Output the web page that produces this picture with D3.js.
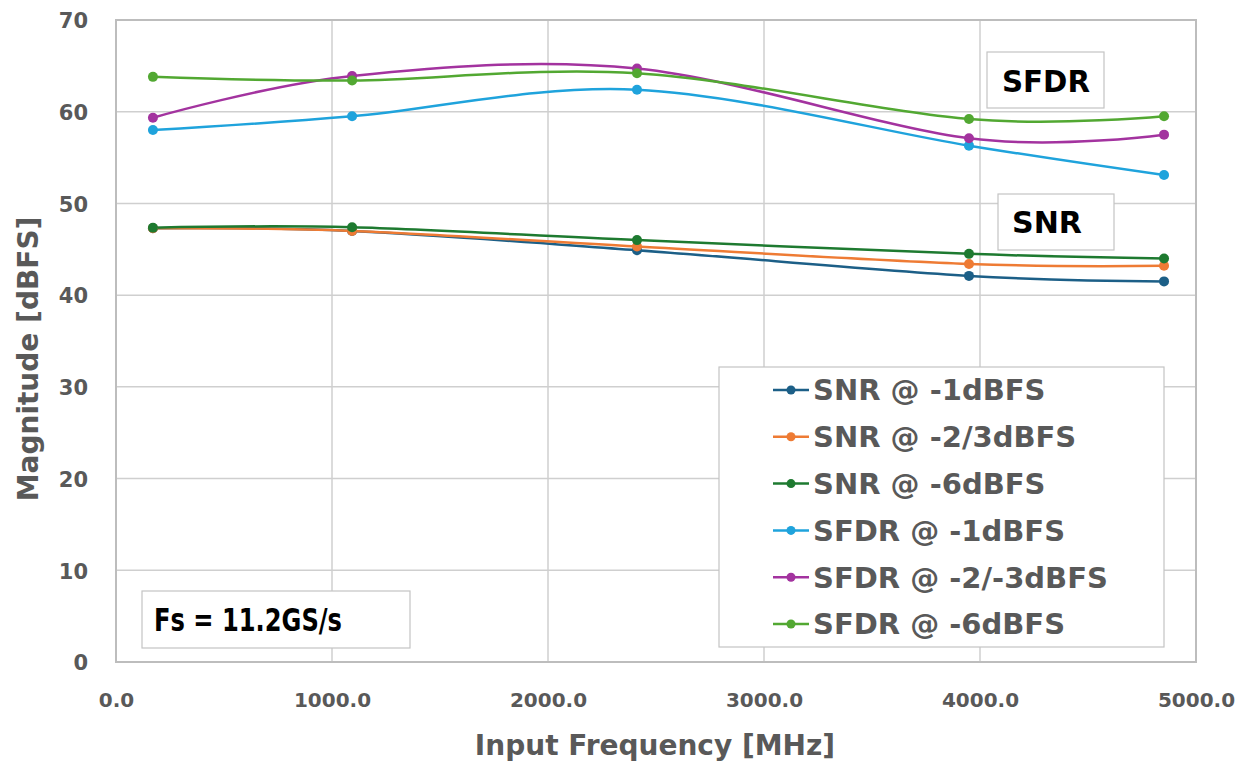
<!DOCTYPE html>
<html>
<head>
<meta charset="utf-8">
<script src="https://cdn.jsdelivr.net/npm/d3@7"></script>
<style>
  body { margin: 0; background: #fff; }
  svg text { font-family: "DejaVu Sans", sans-serif; font-weight: 700; }
</style>
</head>
<body>
<div class="svg-container"></div>
<script>
// data
var freqs = [171, 1093, 2412, 3949, 4852];
var seriesNames = ["SNR @ -1dBFS", "SNR @ -2/3dBFS", "SNR @ -6dBFS",
                   "SFDR @ -1dBFS", "SFDR @ -2/-3dBFS", "SFDR @ -6dBFS"];
var snr1 = [47.3, 47.0, 44.9, 42.1, 41.5];
var snr23 = [47.3, 47.0, 45.3, 43.4, 43.2];
var snr6 = [47.35, 47.4, 46.0, 44.5, 44.0];
var sfdr1 = [58.0, 59.5, 62.4, 56.3, 53.1];
var sfdr23 = [59.35, 63.9, 64.7, 57.1, 57.5];
var sfdr6 = [63.8, 63.4, 64.2, 59.2, 59.5];
var colors = ["#1c5f87", "#ee7b34", "#1e7a30", "#1fa3dc", "#a3339f", "#52a832"];
var xTicks = [0, 1000, 2000, 3000, 4000, 5000];
var yTicks = [0, 10, 20, 30, 40, 50, 60, 70];

var allSeries = [snr1, snr23, snr6, sfdr1, sfdr23, sfdr6];

var width = 1257, height = 762;
var plotLeft = 116, plotRight = 1196, plotTop = 20, plotBottom = 662;

var svg = d3.select(".svg-container").append("svg")
  .attr("width", width)
  .attr("height", height);

var x = d3.scaleLinear().domain([0, 5000]).range([plotLeft, plotRight]);
var y = d3.scaleLinear().domain([0, 70]).range([plotBottom, plotTop]);

// grid
svg.append("g")
  .selectAll("line")
  .data(xTicks)
  .join("line")
  .attr("x1", d => x(d)).attr("x2", d => x(d))
  .attr("y1", plotTop).attr("y2", plotBottom)
  .attr("stroke", "#cfcfcf").attr("stroke-width", 1.5);

svg.append("g")
  .selectAll("line")
  .data(yTicks)
  .join("line")
  .attr("x1", plotLeft).attr("x2", plotRight)
  .attr("y1", d => y(d)).attr("y2", d => y(d))
  .attr("stroke", "#cfcfcf").attr("stroke-width", 1.5);

// plot border
svg.append("rect")
  .attr("x", plotLeft).attr("y", plotTop)
  .attr("width", plotRight - plotLeft).attr("height", plotBottom - plotTop)
  .attr("fill", "none")
  .attr("stroke", "#bdbdbd").attr("stroke-width", 2);

// axes (labels only)
var xAxis = svg.append("g")
  .attr("transform", "translate(0," + (plotBottom + 45) + ")")
  .call(d3.axisBottom(x).tickValues(xTicks).tickFormat(d3.format(".1f")).tickSize(0));
xAxis.select(".domain").remove();
xAxis.selectAll("text")
  .attr("fill", "#595959")
  .style("font-size", "20px")
  .attr("y", 0)
  .attr("dy", 0);

var yAxis = svg.append("g")
  .attr("transform", "translate(" + (plotLeft - 28) + ",0)")
  .call(d3.axisLeft(y).tickValues(yTicks).tickSize(0));
yAxis.select(".domain").remove();
yAxis.selectAll("text")
  .attr("fill", "#595959")
  .style("font-size", "21px")
  .attr("x", 0)
  .attr("dy", "0.37em");

// axis titles
svg.append("text")
  .attr("x", 655).attr("y", 755)
  .attr("text-anchor", "middle")
  .attr("fill", "#595959")
  .style("font-size", "28px")
  .text("Input Frequency [MHz]");

svg.append("text")
  .attr("transform", "translate(38,359) rotate(-90)")
  .attr("text-anchor", "middle")
  .attr("fill", "#595959")
  .style("font-size", "28px")
  .text("Magnitude [dBFS]");

// lines
var line = d3.line()
  .x((d, i) => x(freqs[i]))
  .y(d => y(d))
  .curve(d3.curveCardinal.tension(0));

allSeries.forEach(function(vals, k) {
  svg.append("path")
    .datum(vals)
    .attr("d", line)
    .attr("fill", "none")
    .attr("stroke", colors[k])
    .attr("stroke-width", 2.5);
});
allSeries.forEach(function(vals, k) {
  svg.append("g")
    .selectAll("circle")
    .data(vals)
    .join("circle")
    .attr("cx", (d, i) => x(freqs[i]))
    .attr("cy", d => y(d))
    .attr("r", 5)
    .attr("fill", colors[k]);
});

// annotation boxes
function labelBox(bx, by, bw, bh, txt, tx, ty, size, tl) {
  svg.append("rect")
    .attr("x", bx).attr("y", by).attr("width", bw).attr("height", bh)
    .attr("fill", "#fff").attr("stroke", "#c4c4c4").attr("stroke-width", 1.2);
  svg.append("text")
    .attr("x", tx).attr("y", ty)
    .attr("fill", "#000")
    .style("font-size", size + "px")
    .attr("textLength", tl).attr("lengthAdjust", "spacingAndGlyphs")
    .text(txt);
}
labelBox(987, 52, 117, 56, "SFDR", 1002, 92, 31, 88);
labelBox(998, 194, 116, 56, "SNR", 1012, 233, 31, 70);
labelBox(142, 591, 268, 57, "Fs = 11.2GS/s", 154, 631, 32, 188);

// legend
var legend = svg.append("g");
legend.append("rect")
  .attr("x", 719).attr("y", 367).attr("width", 445).attr("height", 280)
  .attr("fill", "#fff").attr("stroke", "#c4c4c4").attr("stroke-width", 1.2);

var rows = legend.selectAll("g")
  .data(seriesNames)
  .join("g")
  .attr("transform", (d, i) => "translate(0," + (390 + i * 46.8) + ")");
rows.append("line")
  .attr("x1", 773).attr("x2", 809)
  .attr("stroke", (d, i) => colors[i]).attr("stroke-width", 2.5);
rows.append("circle")
  .attr("cx", 791).attr("r", 4.5)
  .attr("fill", (d, i) => colors[i]);
rows.append("text")
  .attr("x", 813).attr("dy", "0.36em")
  .attr("fill", "#595959")
  .style("font-size", "29px")
  .text(d => d);
</script>
</body>
</html>
